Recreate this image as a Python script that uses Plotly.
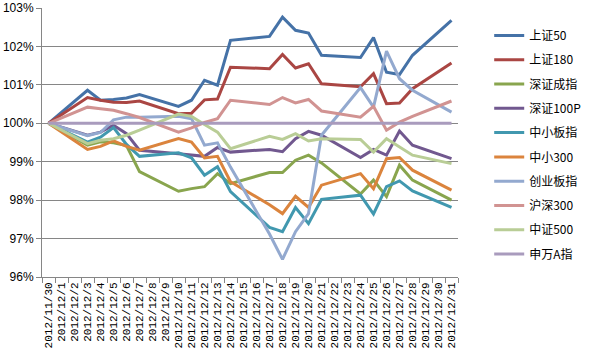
import plotly.graph_objects as go

dates = ["2012/11/30", "2012/12/1", "2012/12/2", "2012/12/3", "2012/12/4", "2012/12/5",
         "2012/12/6", "2012/12/7", "2012/12/8", "2012/12/9", "2012/12/10", "2012/12/11",
         "2012/12/12", "2012/12/13", "2012/12/14", "2012/12/15", "2012/12/16", "2012/12/17",
         "2012/12/18", "2012/12/19", "2012/12/20", "2012/12/21", "2012/12/22", "2012/12/23",
         "2012/12/24", "2012/12/25", "2012/12/26", "2012/12/27", "2012/12/28", "2012/12/29",
         "2012/12/30", "2012/12/31"]

N = None
sz50 = [100, N, N, 100.86, 100.60, 100.62, 100.66, 100.75, N, N, 100.44, 100.60, 101.12, 100.99, 102.16, N, N,
        102.26, 102.76, 102.42, 102.35, 101.77, N, N, 101.71, 102.23, 101.33, 101.27, 101.77, N, N, 102.68]
sz180 = [100, N, N, 100.67, 100.60, 100.55, 100.54, 100.58, N, N, 100.25, 100.26, 100.61, 100.63, 101.46, N, N,
         101.42, 101.79, 101.44, 101.55, 101.03, N, N, 100.95, 101.29, 100.51, 100.53, 100.90, N, N, 101.57]
szcz = [100, N, N, 99.43, 99.52, 99.49, 99.42, 98.74, N, N, 98.23, 98.30, 98.35, 98.69, 98.43, N, N,
        98.72, 98.72, 99.04, 99.17, 98.97, N, N, 98.16, 98.52, 98.09, 98.91, 98.52, N, N, 98.00]
sz100p = [100, N, N, 99.69, 99.77, 99.95, 99.73, 99.30, N, N, 99.21, 99.17, 99.14, 99.37, 99.25, N, N,
          99.32, 99.26, 99.60, 99.79, 99.69, N, N, 99.11, 99.32, 99.17, 99.80, 99.43, N, N, 99.08]
zxbz = [100, N, N, 99.51, 99.64, 99.89, 99.45, 99.14, N, N, 99.23, 99.10, 98.65, 98.87, 98.22, N, N,
        97.29, 97.18, 97.81, 97.39, 98.02, N, N, 98.13, 97.64, 98.35, 98.50, 98.24, N, N, 97.81]
zx300 = [100, N, N, 99.32, 99.40, 99.54, 99.40, 99.30, N, N, 99.60, 99.51, 99.10, 99.14, 98.48, N, N,
         97.88, 97.65, 98.10, 97.81, 98.39, N, N, 98.69, 98.30, 99.08, 99.11, 98.78, N, N, 98.26]
cybz = [100, N, N, 99.68, 99.76, 100.09, 100.16, 100.16, N, N, 100.18, 100.12, 99.43, 99.49, 98.86, N, N,
        97.12, 96.46, 97.18, 97.65, 99.69, N, N, 100.93, 100.42, 101.88, 101.16, 100.86, N, N, 100.29]
hs300 = [100, N, N, 100.42, 100.38, 100.34, 100.25, 100.15, N, N, 99.77, 99.88, 100.02, 100.12, 100.60, N, N,
         100.49, 100.67, 100.53, 100.62, 100.32, N, N, 100.16, 100.44, 99.82, 100.03, 100.18, N, N, 100.58]
zz500 = [100, N, N, 99.47, 99.56, 99.60, 99.69, 99.82, N, N, 100.24, 100.18, 99.97, 99.77, 99.34, N, N,
         99.66, 99.58, 99.73, 99.54, 99.60, N, N, 99.58, 99.25, 99.60, 99.38, 99.17, N, N, 98.95]
swa = [100, N, N, 100, 100, 100, 100, 100, N, N, 100, 100, 100, 100, 100, N, N,
       100, 100, 100, 100, 100, N, N, 100, 100, 100, 100, 100, N, N, 100]

names = ["上证50", "上证180", "深证成指", "深证100P", "中小板指", "中小300", "创业板指", "沪深300", "中证500", "申万A指"]
series = [sz50, sz180, szcz, sz100p, zxbz, zx300, cybz, hs300, zz500, swa]
colors = ["#4572A7", "#AA4643", "#89A54E", "#71588F", "#4198AF", "#DB843D",
          "#93A9CF", "#D19392", "#B9CD96", "#A99BBD"]

fig = go.Figure()
for i, (nm, ys, c) in enumerate(zip(names, series, colors)):
    fig.add_trace(go.Scatter(x=dates, y=ys, name=nm, mode="lines", connectgaps=True,
                             line=dict(color=c, width=3), legendgroup="g%d" % i))

grid = "#868686"
fig.update_layout(
    width=594, height=353,
    margin=dict(l=42, r=97, t=8, b=76),
    paper_bgcolor="white", plot_bgcolor="white",
    font=dict(family="Noto Sans CJK SC", size=12, color="#000000"),
    legend=dict(x=1.075, xanchor="left", y=0.952, yanchor="top", traceorder="grouped",
                tracegroupgap=5.3, font=dict(size=12), bgcolor="rgba(0,0,0,0)",
                itemwidth=30),
    xaxis=dict(type="category", range=[-0.5, 31.5], showgrid=False, showline=True,
               linecolor=grid, linewidth=1, ticks="outside", tickson="boundaries",
               ticklen=5, tickcolor=grid, tickangle=-90, automargin=False,
               tickfont=dict(family="Liberation Mono", size=11, color="#000000")),
    yaxis=dict(range=[96, 103], dtick=1, tick0=96, ticksuffix="%", showgrid=True,
               gridcolor=grid, gridwidth=1, showline=True, linecolor=grid, linewidth=1,
               ticks="outside", ticklen=5, tickcolor=grid, zeroline=False, automargin=False,
               tickfont=dict(family="Liberation Sans", size=12, color="#000000")),
)
fig.write_html("out.html")
